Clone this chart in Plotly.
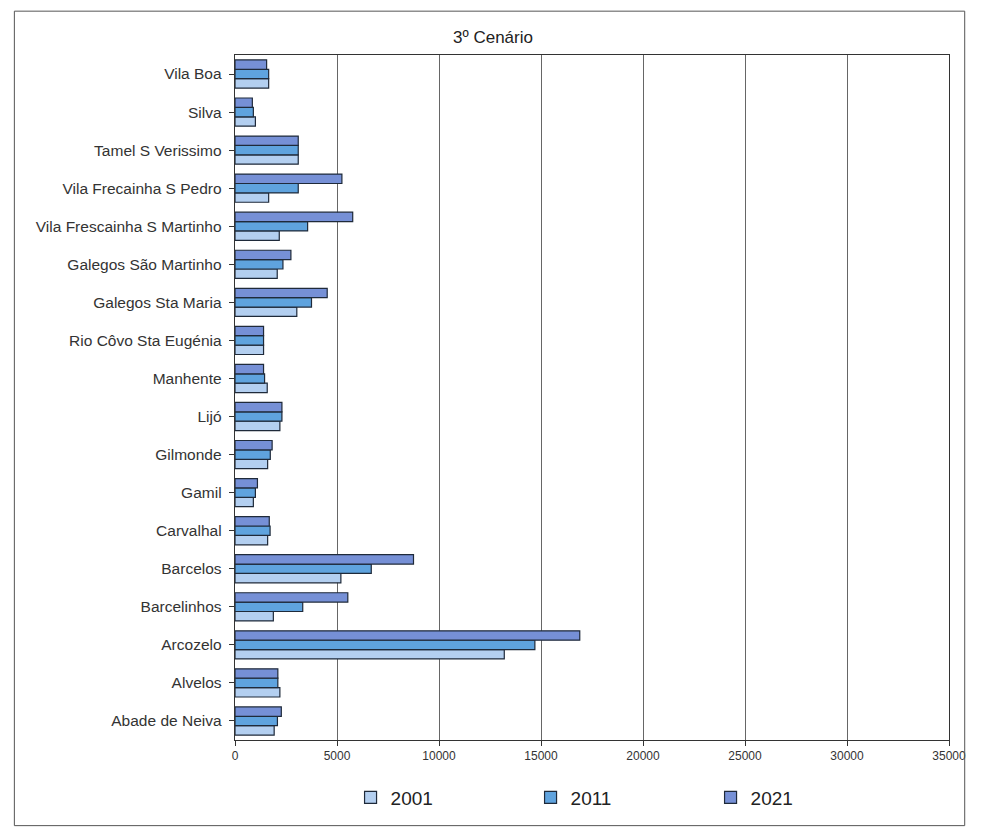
import plotly.graph_objects as go

categories = ["Abade de Neiva", "Alvelos", "Arcozelo", "Barcelinhos", "Barcelos",
              "Carvalhal", "Gamil", "Gilmonde", "Lijó", "Manhente",
              "Rio Côvo Sta Eugénia", "Galegos Sta Maria", "Galegos São Martinho",
              "Vila Frescainha S Martinho", "Vila Frecainha S Pedro",
              "Tamel S Verissimo", "Silva", "Vila Boa"]

v2001 = [1920, 2200, 13200, 1880, 5190, 1600, 900, 1600, 2200, 1580,
         1400, 3030, 2070, 2170, 1650, 3100, 1000, 1650]
v2011 = [2080, 2100, 14700, 3320, 6680, 1720, 1000, 1730, 2300, 1450,
         1400, 3750, 2350, 3560, 3100, 3100, 900, 1650]
v2021 = [2270, 2100, 16900, 5530, 8750, 1680, 1100, 1820, 2300, 1400,
         1400, 4520, 2740, 5770, 5240, 3100, 850, 1550]

xticks = [0, 5000, 10000, 15000, 20000, 25000, 30000, 35000]

series = [("2001", v2001, "#b3cff0"), ("2011", v2011, "#5fa3de"), ("2021", v2021, "#7690d6")]

fig = go.Figure()
for name, vals, col in series:
    fig.add_trace(go.Bar(y=categories, x=vals, name=name, orientation="h",
                         marker=dict(color=col, line=dict(color="#1f2a3a", width=1.2))))

fig.update_layout(
    width=970, height=821,
    paper_bgcolor="white", plot_bgcolor="white",
    font=dict(family="Liberation Sans, Arial, sans-serif", color="#333333"),
    title=dict(text="3º Cenário", x=0.5, xanchor="center", y=0.965, yanchor="middle",
               font=dict(size=17, color="#222222")),
    barmode="group", bargap=0.26, bargroupgap=0.0,
    margin=dict(l=227, r=19, t=47, b=87),
    legend=dict(orientation="h", x=0.54, xanchor="center", y=-0.084, yanchor="middle",
                font=dict(size=19, color="#222222"), traceorder="normal",
                itemwidth=30, entrywidth=135),
    xaxis=dict(range=[0, 35000], tickmode="array", tickvals=xticks,
               ticktext=[str(t) for t in xticks],
               showgrid=True, gridcolor="#666666", gridwidth=1,
               showline=True, linecolor="#333333", mirror=True, ticks="outside",
               ticklen=5, tickcolor="#333333", tickfont=dict(size=12), zeroline=False),
    yaxis=dict(showline=True, linecolor="#333333", mirror=True, ticks="outside",
               ticklen=5, tickcolor="#333333", tickfont=dict(size=15.5), ticksuffix=" "),
    shapes=[dict(type="rect", xref="paper", yref="paper", x0=-0.309, x1=1.022, y0=-0.125, y1=1.064,
                 line=dict(color="#555555", width=1))],
)

fig.write_html("out.html")
